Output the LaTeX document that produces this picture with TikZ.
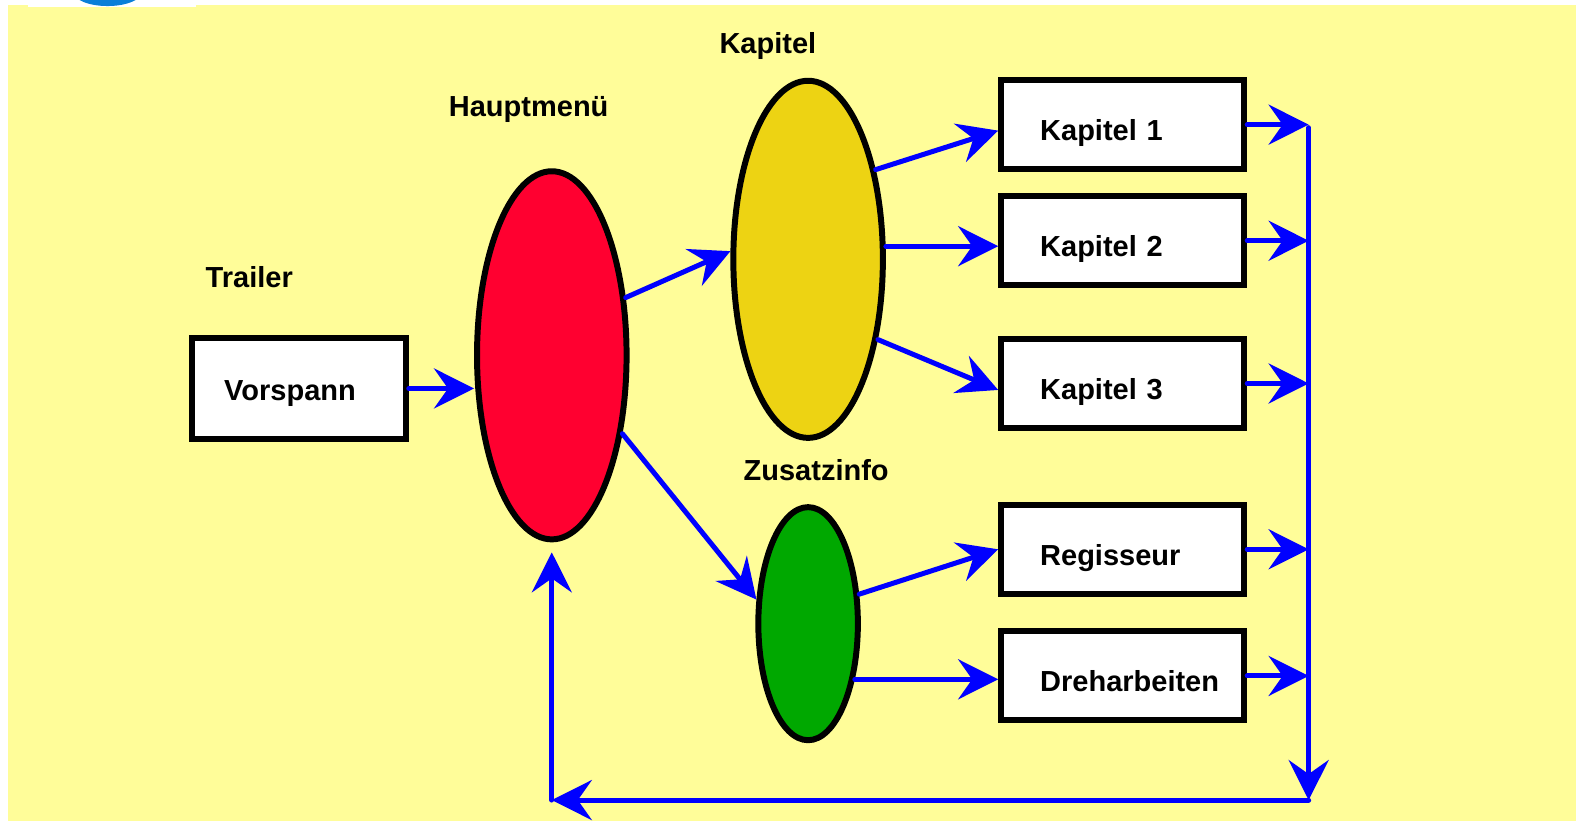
\documentclass[tikz,border=0pt]{standalone}
\usepackage{fontspec}
\setmainfont{Liberation Sans}
\usetikzlibrary{arrows.meta, shapes.geometric}

\definecolor{paper}{RGB}{255,253,153}
\definecolor{menured}{RGB}{255,0,48}
\definecolor{chapyellow}{RGB}{237,211,19}
\definecolor{infogreen}{RGB}{0,168,0}
\definecolor{logoblue}{RGB}{10,127,216}

\begin{document}
\begin{tikzpicture}[x=0.0201cm, y=-0.0201cm, font=\bfseries\fontsize{16.5}{19}\selectfont,
		box/.style={draw, line width=3.4pt, fill=white, align=left, inner xsep=0.78cm, text width=3.3cm, minimum height=1.78cm, text height=18pt, text depth=0pt},
		blob/.style={ellipse, draw, line width=3.4pt, inner sep=0pt},
		arr/.style={draw=blue, line width=2.85pt, line cap=round, -{Stealth[length=0.8cm, width=0.8cm, inset=0.28cm]}}]
		\useasboundingbox (0,0) rectangle (1568,817);
		\fill[paper] (8,5) rectangle (1568,817);
		\fill[white] (28,0) rectangle (195,7);
		\begin{scope}
			\clip (28,0) rectangle (195,6);
			\fill[logoblue] (107,-8) ellipse [x radius=34, y radius=14];
		\end{scope}
		% labels
		\node (trailer) at (248,276) {Trailer};
		\node (hauptlabel) at (526,109) {Hauptmenü};
		\node (kapitellabel) at (764,46) {Kapitel};
		\node (infolabel) at (812,468) {Zusatzinfo};
		% menus
		\node[box, text width=2.99cm, inner xsep=0.64cm, minimum height=2.02cm, text height=14.2pt] (vorspann) at (297.5,386.5) {Vorspann};
		\node[blob, fill=menured, minimum width=2.99cm, minimum height=7.36cm] (haupt) at (549,353.5) {};
		\node[blob, fill=chapyellow, minimum width=2.99cm, minimum height=7.14cm] (kapitel) at (804,258) {};
		\node[blob, fill=infogreen, minimum width=1.99cm, minimum height=4.66cm] (info) at (804,620.5) {};
		\foreach \n/\t/\y in {k1/Kapitel 1/124, k2/Kapitel 2/239.5, k3/Kapitel 3/381.5, regie/Regisseur/546.5, dreh/Dreharbeiten/672.5} {
			\node[box] (\n) at (1117,\y) {\t};
		}
		\coordinate (bus) at (1302,127);
		\coordinate (corner) at (1302,796);
		\coordinate (back) at (549,796);
		% arrows
		\draw[arr] (vorspann.east) -- (vorspann.east -| haupt.west);
		\draw[arr] (haupt.38) -- (kapitel.174);
		\draw[arr] (haupt.-48) -- (info.155);
		\draw[arr] (kapitel.53) -- ([yshift=-3.4pt]k1.west);
		\draw[arr] ([yshift=-3.1pt]k2.west -| kapitel.east) -- ([yshift=-3.1pt]k2.west);
		\draw[arr] (kapitel.-49) -- ([yshift=-3.7pt]k3.west);
		\draw[arr] (info.30) -- (regie.west);
		\draw[arr] (info.-50) -- (info.-50 -| dreh.west);
		\foreach \n in {k1, k2, k3, regie, dreh} {
			\draw[arr] (\n.east) -- (\n.east -| bus);
		}
		\draw[arr] (bus) -- (corner);
		\draw[arr] (corner) -- (back);
		\draw[arr, shorten >=0.2cm] (back) -- (haupt.south);
	\end{tikzpicture}
\end{document}
